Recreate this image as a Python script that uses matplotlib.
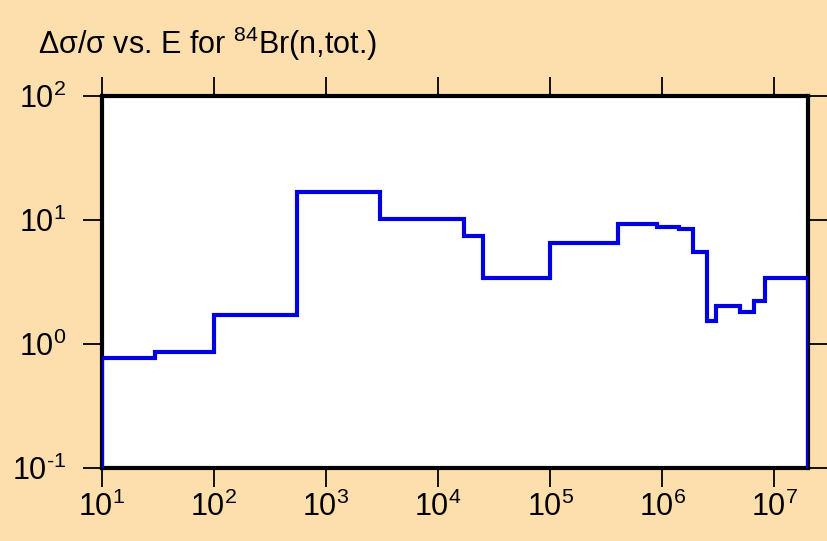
import numpy as np
import matplotlib
matplotlib.use('Agg')
import matplotlib.pyplot as plt
from matplotlib.ticker import FixedLocator, FuncFormatter, NullLocator

plt.rcParams['font.family'] = ['Liberation Sans', 'DejaVu Sans']
plt.rcParams['mathtext.fontset'] = 'custom'
plt.rcParams['mathtext.rm'] = 'Liberation Sans'
plt.rcParams['mathtext.it'] = 'Liberation Sans:italic'

# energy bin edges (eV) and relative uncertainty (%)
edges = [10, 30, 100, 550, 3000, 17000, 25000, 1e5, 4e5, 9e5, 1.4e6,
         1.9e6, 2.5e6, 3e6, 4.9e6, 6.6e6, 8.3e6, 2e7]
values = [0.77, 0.86, 1.71, 16.7, 10.1, 7.47, 3.39, 6.49, 9.34, 8.83,
          8.41, 5.55, 1.54, 2.01, 1.80, 2.22, 3.43]
xdecades = [1, 2, 3, 4, 5, 6, 7]
ydecades = [-1, 0, 1, 2]
ymin, ymax = 0.1, 100

bg = '#fddfae'
fig = plt.figure(figsize=(8.27, 5.41), dpi=100, facecolor=bg)
ax = fig.add_axes([0.1233, 0.1349, 0.977 - 0.1233, 0.8226 - 0.1349])

# histogram outline, dropping to the bottom at both ends
xs = np.repeat(edges, 2)
ys = np.concatenate([[ymin], np.repeat(values, 2), [ymin]])
ax.plot(xs, ys, color='#0000e0', linewidth=3, solid_joinstyle='miter', zorder=3)

ax.set_xscale('log')
ax.set_yscale('log')
ax.set_xlim(edges[0], edges[-1])
ax.set_ylim(ymin, ymax)

ax.xaxis.set_major_locator(FixedLocator([10.0 ** d for d in xdecades]))
ax.yaxis.set_major_locator(FixedLocator([10.0 ** d for d in ydecades]))
ax.xaxis.set_minor_locator(NullLocator())
ax.yaxis.set_minor_locator(NullLocator())


def fmt(v, p):
    d = int(round(np.log10(v)))
    if d < 0:
        return r'$\mathregular{10^{\text{-}%d}}$' % -d
    return r'$\mathregular{10^{%d}}$' % d


ax.xaxis.set_major_formatter(FuncFormatter(fmt))
ax.yaxis.set_major_formatter(FuncFormatter(fmt))

ax.tick_params(which='major', direction='out', length=14, width=1.3,
               top=True, right=True, labelsize=22)
ax.tick_params(axis='x', pad=3)
ax.tick_params(axis='y', pad=12)
for s in ax.spines.values():
    s.set_linewidth(3)

fig.text(0.046, 0.900, 'Δσ/σ vs. E for $^{\\mathregular{84}}$Br(n,tot.)',
         fontsize=22, ha='left', va='baseline')

fig.savefig('out.png', dpi=100, facecolor=bg)
